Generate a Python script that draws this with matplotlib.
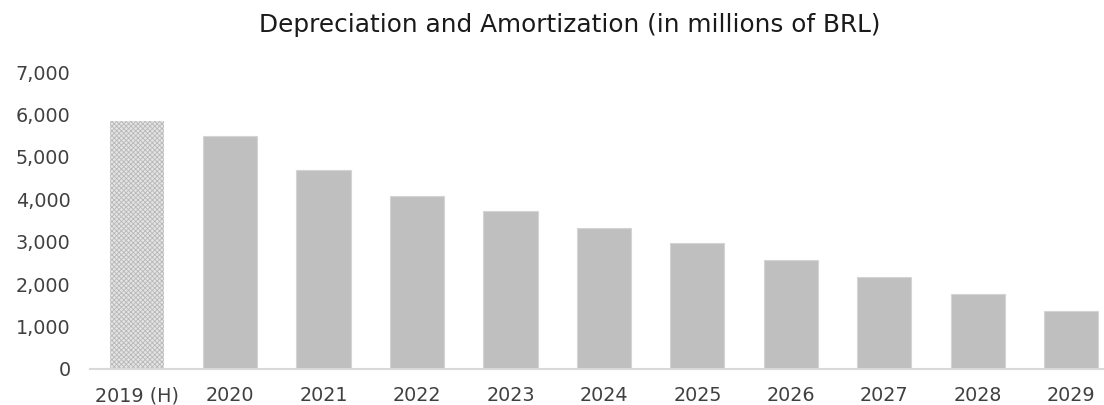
import matplotlib.pyplot as plt
from matplotlib.ticker import FuncFormatter

# D&A figures, millions of BRL (first year is historical)
years = ["2019 (H)", "2020", "2021", "2022", "2023", "2024",
         "2025", "2026", "2027", "2028", "2029"]
dep_amort = [5840, 5490, 4690, 4070, 3715, 3335, 2960, 2570, 2160, 1770, 1375]

plt.rcParams['font.family'] = ['DejaVu Sans']
plt.rcParams['hatch.linewidth'] = 0.6

fig = plt.figure(figsize=(11.04, 4.05), dpi=100)
ax = fig.add_axes([0.0815, 0.089, 0.931, 0.733])

x = list(range(len(years)))
bars = ax.bar(x, dep_amort, width=0.58, color="#bfbfbf", edgecolor="#d4d4d4", linewidth=0.8)

# historical bar gets the dotted fill
bars[0].set_facecolor("#e4e4e4")
bars[0].set_hatch("xxxxxxx")
bars[0].set_edgecolor("#b8b8b8")
bars[0].set_linewidth(0)

ax.set_xlim(-0.5, len(years) - 0.5)
ax.set_ylim(0, 7000)
ax.set_yticks(range(0, 7001, 1000))
ax.yaxis.set_major_formatter(FuncFormatter(lambda v, p: f"{int(v):,}"))
ax.set_xticks(x)
ax.set_xticklabels(years)

for s in ["top", "right", "left"]:
    ax.spines[s].set_visible(False)
ax.spines["bottom"].set_color("#d9d9d9")
ax.spines["bottom"].set_linewidth(1.5)
ax.tick_params(axis="both", length=0, labelsize=13.8, colors="#404040")
ax.tick_params(axis="y", pad=14)
ax.tick_params(axis="x", pad=12.5)

fig.text(0.516, 0.938, "Depreciation and Amortization (in millions of BRL)",
         ha="center", va="center", fontsize=17.8, color="#1a1a1a")

plt.savefig("out.png", dpi=100)
